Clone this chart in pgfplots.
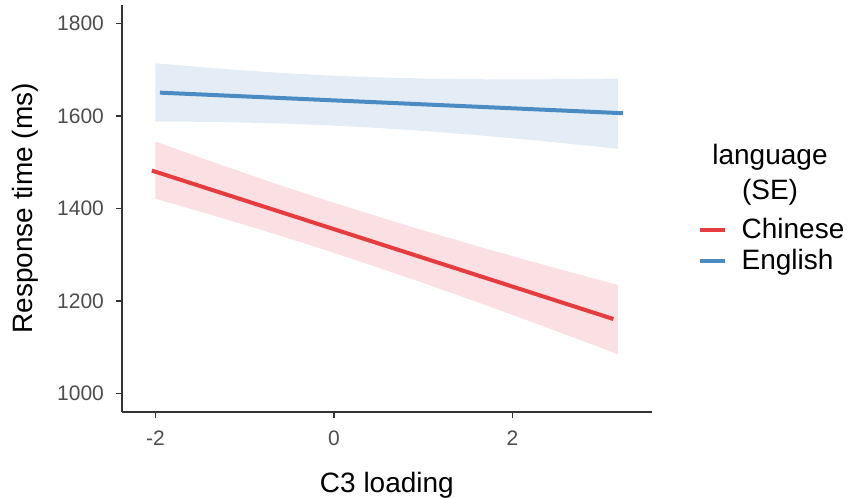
\documentclass[border=0pt]{standalone}
\usepackage{fontspec}
\setmainfont{Liberation Sans}
\usepackage{pgfplots}
\pgfplotsset{compat=1.18}
\definecolor{cred}{HTML}{E63B3F}
\definecolor{cblue}{HTML}{4A8BC4}
\definecolor{rred}{HTML}{FAE0E2}
\definecolor{rblue}{HTML}{E4EDF5}
\definecolor{axgray}{HTML}{333333}
\definecolor{tickgray}{HTML}{4D4D4D}
\begin{document}
\begin{tikzpicture}[x=1pt,y=1pt]
\path[use as bounding box] (0,0) rectangle (424,249);
\begin{axis}[
  at={(61pt,43pt)}, anchor=south west,
  width=264.9pt, height=203.5pt, scale only axis,
  xmin=-2.375, xmax=3.56, ymin=960, ymax=1840,
  axis x line*=bottom, axis y line*=left,
  axis line style={axgray, line width=0.6pt, -},
  xtick={-2,0,2}, ytick={1000,1200,1400,1600,1800},
  tick align=outside, tick style={axgray, line width=0.6pt},
  major tick length=3pt,
  ticklabel style={font=\fontsize{10.5}{12}\selectfont, text=tickgray},
  yticklabel style={xshift=-2.5pt},
  xticklabel style={yshift=-3pt},
  /pgf/number format/assume math mode=true,
  /pgf/number format/set thousands separator={},
  xlabel={C3 loading}, ylabel={Response time (ms)},
  label style={font=\fontsize{14}{16}\selectfont},
  xlabel style={at={(axis description cs:0.5,-0.1966)}, anchor=base},
  ylabel style={at={(axis description cs:-0.168,0.5)}, anchor=base},
  clip=false,
  legend style={at={(rel axis cs:1.0866,0.475)}, anchor=north west,
    draw=none, fill=none, inner sep=0pt, outer sep=0pt,
    font=\fontsize{14}{16}\selectfont, row sep=3.5pt,
    nodes={inner sep=0pt},
    /tikz/every odd column/.append style={column sep=7.5pt}},
  legend cell align=left,
  legend image code/.code={\draw[#1, line width=2pt] (0pt,0pt) -- (12.5pt,0pt);},
]
\addplot[fill=rblue, draw=none, forget plot] coordinates {
(-2,1714.0) (-1.5,1705.7) (-1,1698.4) (-0.5,1692.2) (0,1687.2) (0.5,1683.5) (1,1681.1) (1.5,1679.6) (2,1679.2) (2.5,1679.5) (3,1680.5) (3.18,1681.0)
(3.18,1529.0) (3,1532.7) (2.5,1542.5) (2,1551.8) (1.5,1560.2) (1,1567.7) (0.5,1574.1) (0,1579.2) (-0.5,1583.2) (-1,1585.8) (-1.5,1587.5) (-2,1588.0)
} -- cycle;
\addplot[fill=rred, draw=none, forget plot] coordinates {
(-2,1544.7) (-1.5,1510.2) (-1,1476.5) (-0.5,1443.8) (0,1412.3) (0.5,1382.0) (1,1352.7) (1.5,1324.4) (2,1296.9) (2.5,1270.2) (3,1244.1) (3.18,1234.8)
(3.18,1084.8) (3,1097.9) (2.5,1134.2) (2,1169.9) (1.5,1204.8) (1,1238.9) (0.5,1272.0) (0,1304.1) (-0.5,1335.0) (-1,1364.7) (-1.5,1393.4) (-2,1421.3)
} -- cycle;
\addplot[cred, line width=2pt] coordinates {(-2.04,1482) (3.13,1161)};
\addlegendentry{Chinese}
\addplot[cblue, line width=2pt] coordinates {(-1.95,1650.5) (3.238,1606)};
\addlegendentry{English}
\end{axis}
\node[font=\fontsize{14}{16}\selectfont, anchor=base] at (385pt,166.5pt) {language};
\node[font=\fontsize{14}{16}\selectfont, anchor=base] at (385pt,149pt) {(SE)};
\end{tikzpicture}
\end{document}
